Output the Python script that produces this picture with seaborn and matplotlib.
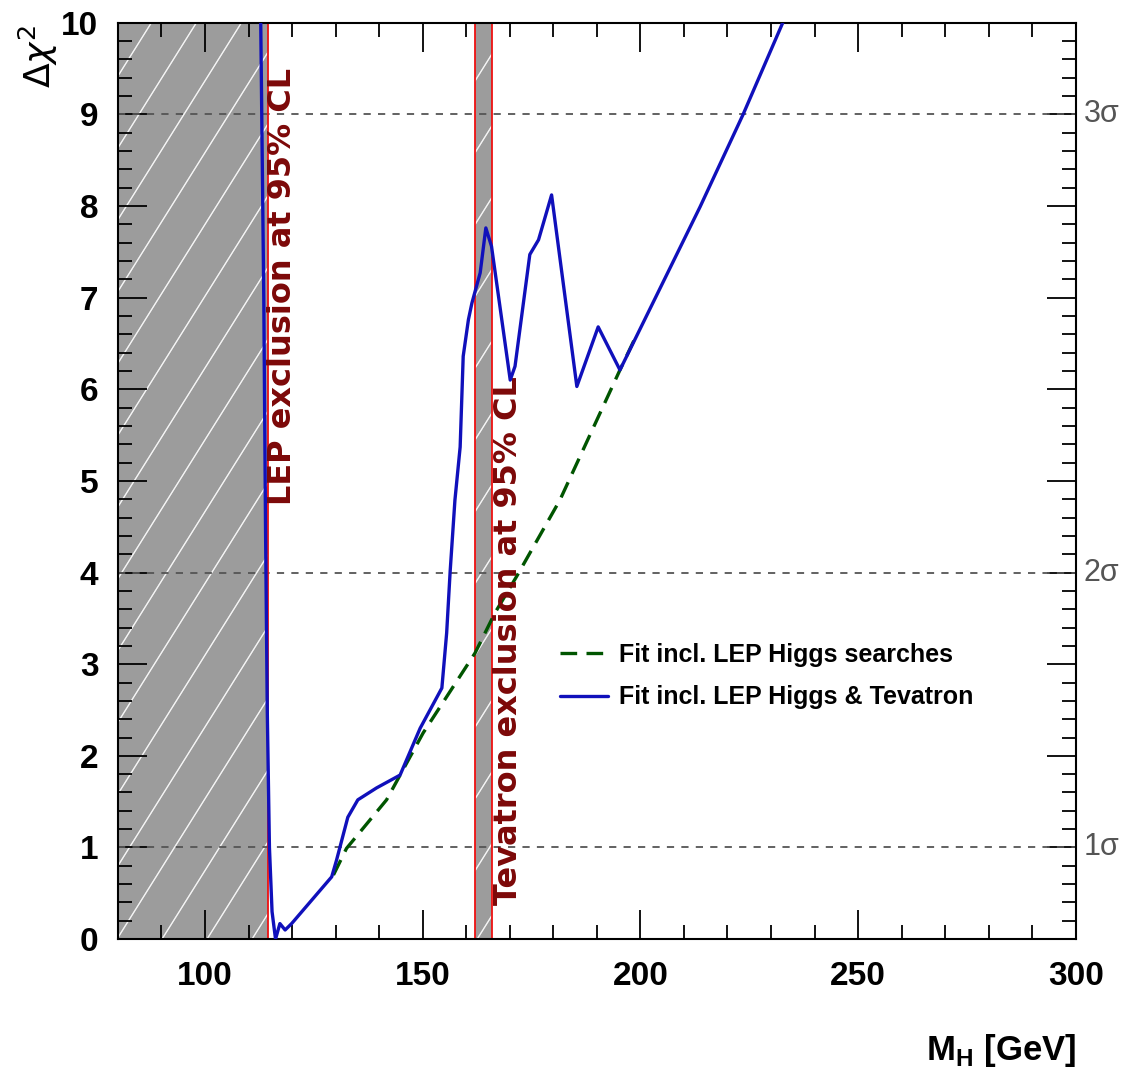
import numpy as np
import pandas as pd
import matplotlib.pyplot as plt
import seaborn as sns
from matplotlib.collections import LineCollection
from matplotlib.ticker import MultipleLocator

sns.set_theme(style="ticks")
plt.rcParams['font.family'] = ['Liberation Sans', 'DejaVu Sans']
plt.rcParams['font.weight'] = 'normal'
plt.rcParams['text.color'] = 'black'
plt.rcParams['xtick.color'] = 'black'
plt.rcParams['ytick.color'] = 'black'
plt.rcParams['mathtext.fontset'] = 'custom'
plt.rcParams['mathtext.bf'] = 'Liberation Sans:bold'
plt.rcParams['mathtext.rm'] = 'Liberation Sans'

# fit incl. LEP Higgs searches (green dashed)
mh_lep = [129.5, 132.5, 141.7, 150.1, 162.0, 166.6, 171.6, 181.5, 195.3, 199.0]
chi2_lep = [0.70, 0.99, 1.52, 2.25, 3.12, 3.56, 3.96, 4.79, 6.21, 6.58]

# fit incl. LEP Higgs & Tevatron (blue)
mh_tev = [112.8, 113.5, 113.9, 114.3, 114.8, 115.4, 116.2, 117.2, 118.4, 119.9,
          129.1, 130.2, 132.8, 135.1, 139.4, 144.8, 149.4, 154.4, 155.5, 156.3,
          157.4, 158.6, 159.3, 160.5, 161.3, 163.2, 164.5, 165.8, 170.1, 171.2,
          174.6, 176.6, 179.6, 185.4, 190.3, 195.3, 213.7, 223.6, 232.7]
chi2_tev = [10.0, 7.0, 4.5, 2.5, 1.0, 0.30, 0.0, 0.17, 0.10, 0.17,
            0.68, 0.86, 1.33, 1.52, 1.65, 1.79, 2.30, 2.74, 3.34, 4.01,
            4.79, 5.37, 6.36, 6.76, 6.94, 7.27, 7.76, 7.56, 6.10, 6.25,
            7.47, 7.63, 8.12, 6.03, 6.68, 6.21, 7.99, 9.00, 10.0]

lep_limit = 114.4
tev_band = (162.0, 166.0)
sigma_levels = [1, 4, 9]
sigma_labels = ['1σ', '2σ', '3σ']

df_lep = pd.DataFrame({'mh': mh_lep, 'chi2': chi2_lep})
df_tev = pd.DataFrame({'mh': mh_tev, 'chi2': chi2_tev})

fig = plt.figure(figsize=(11.23, 10.77), dpi=100)
ax = fig.add_axes([0.105, 0.128, 0.853, 0.851])

gray = '#9c9c9c'
lep_patch = ax.axvspan(80, lep_limit, facecolor=gray, edgecolor='none', zorder=0)
tev_patch = ax.axvspan(tev_band[0], tev_band[1], facecolor=gray, edgecolor='none', zorder=0)

# white diagonal hatching
for patch in (lep_patch, tev_patch):
    segs = [[(o, 0), (o + 0.6, 1)] for o in np.arange(-0.8, 1.0, 0.047)]
    lc = LineCollection(segs, transform=ax.transAxes, colors='white', linewidths=0.9,
                        alpha=0.7, zorder=0.5)
    lc.set_clip_path(patch)
    ax.add_collection(lc, autolim=False)

for xv in (lep_limit, tev_band[0], tev_band[1]):
    ax.axvline(xv, color='#ee1111', lw=1.3, zorder=2)

for y in sigma_levels:
    ax.axhline(y, color='#555555', lw=1.3, ls=(0, (4, 4)), zorder=1)

sns.lineplot(data=df_lep, x='mh', y='chi2', ax=ax, color='#005500', lw=2.4,
             linestyle=(0, (5, 2.8)), estimator=None, sort=False,
             label='Fit incl. LEP Higgs searches', zorder=3)
sns.lineplot(data=df_tev, x='mh', y='chi2', ax=ax, color='#1010bb', lw=2.4,
             estimator=None, sort=False,
             label='Fit incl. LEP Higgs & Tevatron', zorder=4)

ax.set_xlim(80, 300)
ax.set_ylim(0, 10)
ax.xaxis.set_major_locator(MultipleLocator(50))
ax.xaxis.set_minor_locator(MultipleLocator(10))
ax.yaxis.set_major_locator(MultipleLocator(1))
ax.yaxis.set_minor_locator(MultipleLocator(0.2))
ax.tick_params(which='both', direction='in', top=True, right=True, colors='black')
ax.tick_params(which='major', length=21, width=1.3, labelsize=24)
ax.tick_params(which='minor', length=10, width=1.3)
ax.tick_params(axis='y', pad=14)
ax.tick_params(axis='x', pad=16)
for lbl in ax.get_xticklabels() + ax.get_yticklabels():
    lbl.set_fontweight('bold')
for s in ax.spines.values():
    s.set_linewidth(1.5)
    s.set_color('black')
ax.set_xlabel('')
ax.set_ylabel('')

ax.legend(loc='center left', bbox_to_anchor=(0.462, 0.287), frameon=False,
          prop={'size': 18, 'weight': 'bold'}, handlelength=1.9, handletextpad=0.45,
          labelspacing=0.75, borderpad=0, borderaxespad=0, labelcolor='black')

txt_col = '#7c0808'
ax.text(117.9, 4.74, 'LEP exclusion at 95% CL', rotation=90, ha='center', va='bottom',
        color=txt_col, fontsize=23, family=['DejaVu Sans'], fontweight='bold')
ax.text(169.6, 0.37, 'Tevatron exclusion at 95% CL', rotation=90, ha='center', va='bottom',
        color=txt_col, fontsize=23, family=['DejaVu Sans'], fontweight='bold')

for y, lab in zip(sigma_levels, sigma_labels):
    ax.text(1.008, y, lab, transform=ax.get_yaxis_transform(), ha='left', va='center',
            fontsize=22, color='#555555')

ax.text(-0.083, 0.998, r'$\Delta\chi^{2}$', transform=ax.transAxes, rotation=90,
        ha='center', va='top', fontsize=26, math_fontfamily='dejavusans')
ax.text(1.0, -0.132, r'M$_{\mathbf{H}}$ [GeV]', transform=ax.transAxes,
        ha='right', va='baseline', fontsize=25, fontweight='bold')

fig.savefig('out.png', dpi=100)
